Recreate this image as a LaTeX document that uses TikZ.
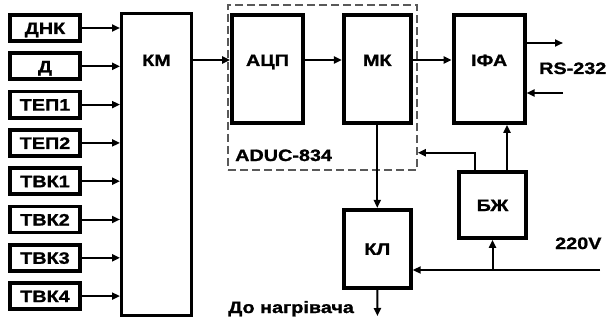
\documentclass[tikz,border=0pt]{standalone}
\usepackage{fontspec}
\setmainfont{Liberation Sans}
\newfontfamily\diagfont{Liberation Sans Bold}[FakeStretch=1.2, FakeBold=1.2]
\usetikzlibrary{arrows.meta,positioning}

\begin{document}
\begin{tikzpicture}[
    x=1pt, y=-1pt,
    >={Triangle[length=8pt,width=7pt]},
    font=\fontsize{16.5}{19}\diagfont,
    captext/.style={text height=12pt, text depth=0pt},
    box/.style={draw, line width=3.8pt, inner sep=0pt, captext, minimum width=67pt},
    sens/.style={box, minimum width=70pt, minimum height=26pt},
    tall/.style={box, minimum height=108pt},
    dashbox/.style={draw=black!65, line width=1.5pt, dash pattern=on 8pt off 4pt,
                    minimum width=189pt, minimum height=165pt},
    flow/.style={->, line width=2pt},
    txt/.style={captext, inner sep=0pt},
  ]
  \useasboundingbox (0,0) rectangle (608,321);

  % input sensors
  \node[sens] (dnk) at (45,28) {ДНК};
  \node[sens, below=8.5pt of dnk] (d) {Д};
  \node[sens, below=8.5pt of d] (tep1) {ТЕП1};
  \node[sens, below=8.5pt of tep1] (tep2) {ТЕП2};
  \node[sens, below=8.5pt of tep2] (tvk1) {ТВК1};
  \node[sens, below=8.5pt of tvk1] (tvk2) {ТВК2};
  \node[sens, below=8.5pt of tvk2] (tvk3) {ТВК3};
  \node[sens, below=8.5pt of tvk3] (tvk4) {ТВК4};

  % commutator
  \node[box, line width=3pt, minimum width=70pt, minimum height=302pt,
        label={[txt, yshift=104.5pt]center:КМ}] (km) at (156.5,164.5) {};

  % ADuC block
  \node[dashbox] (adu) at (322.5,87.5) {};
  \node[tall, minimum width=71pt, label={[txt, yshift=9pt]center:АЦП}] (adc) at (267.5,69) {};
  \node[tall, right=37pt of adc, label={[txt, yshift=9pt]center:МК}] (mk) {};
  \node[txt, anchor=west] (aduc) at (235,155) {ADUC-834};

  \node[tall, minimum width=71pt, right=39pt of mk,
        label={[txt, yshift=9pt]center:ІФА}] (ifa) {};
  \node[box, minimum height=66pt] (bzh) at (492.5,205) {БЖ};
  \node[box, minimum height=78pt, below=83pt of mk] (kl) {КЛ};

  \node[txt, anchor=west] (rs) at (539,68) {RS-232};
  \node[txt, anchor=west] (volt) at (555,243) {220V};
  \node[txt, anchor=west] (heatlbl) at (228,307) {До нагрівача};

  \coordinate (kmout) at ([yshift=9pt]adc.west);
  \coordinate (rsout) at (563,43);
  \coordinate (rsin) at (563,93);
  \coordinate (heat) at (377.5,316);
  \coordinate (pwr) at (600,270);
  \coordinate (bzhl) at ([xshift=-17.5pt]bzh.north);
  \coordinate (bzhr) at ([xshift=14.5pt]bzh.north);
  \coordinate (fb) at ([yshift=18pt]adu.south east);

  \draw[flow] (dnk.east) -- (dnk.east -| km.west);
  \draw[flow] (d.east) -- (d.east -| km.west);
  \draw[flow] (tep1.east) -- (tep1.east -| km.west);
  \draw[flow] (tep2.east) -- (tep2.east -| km.west);
  \draw[flow] (tvk1.east) -- (tvk1.east -| km.west);
  \draw[flow] (tvk2.east) -- (tvk2.east -| km.west);
  \draw[flow] (tvk3.east) -- (tvk3.east -| km.west);
  \draw[flow] (tvk4.east) -- (tvk4.east -| km.west);

  \draw[flow] (kmout -| km.east) -- (kmout);
  \draw[flow] ([yshift=9pt]adc.east) -- ([yshift=9pt]mk.west);
  \draw[flow] ([yshift=9pt]mk.east) -- ([yshift=9pt]ifa.west);
  \draw[flow] (mk.south) -- (kl.north);
  \draw[flow] (kl.south) -- (heat);
  \draw[flow] (ifa.east |- rsout) -- (rsout);
  \draw[flow] (rsin) -- (rsin -| ifa.east);
  \draw[flow] (bzhr) -- (bzhr |- ifa.south);
  \draw[flow] (bzhl) |- (fb);
  \draw[flow] (pwr) -- (pwr -| kl.east);
  \draw[flow] (pwr -| bzh.south) -- (bzh.south);

\end{tikzpicture}
\end{document}
